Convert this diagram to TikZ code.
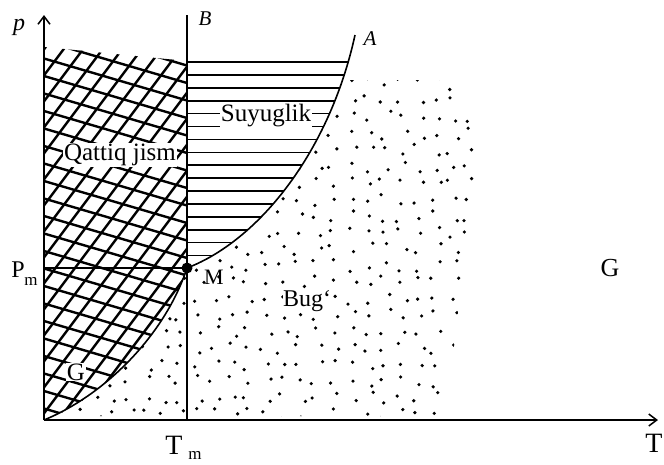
\documentclass[tikz,border=0pt]{standalone}
\usepackage{fontspec}
\setmainfont{Liberation Serif}
\usetikzlibrary{arrows.meta}
\begin{document}
\begin{tikzpicture}[x=1pt,y=-1pt,
  axis/.style={line width=1.5pt,-{Straight Barb[length=8pt,width=12pt,line width=1.5pt]}},
  bound/.style={line width=1.6pt},
  xhatch/.style={line width=2.4pt},
  hhatch/.style={line width=1.6pt},
  lab/.style={inner sep=1.5pt},
  wlab/.style={lab,fill=white},
  dotmark/.style={fill=black}]
\useasboundingbox (0,0) rectangle (664,464);
% key points
\coordinate (O) at (44,420);
\coordinate (Ptop) at (44,15);
\coordinate (Ttip) at (658,420);
\coordinate (Bbot) at (187,420);
\coordinate (Btop) at (187,15);
\coordinate (M) at (187,268);
\coordinate (Pm) at (44,268);
\coordinate (Aend) at (355,35);

% cross-hatched solid region
\begin{scope}
  \clip (O) .. controls (105,395) and (165,335) .. (M) -- (187,61) -- (44,47) -- cycle;
  \foreach \k in {-9,...,24} {
    \draw[xhatch] (44,{17.5*\k+6}) -- (187,{17.5*\k+6+42});
  }
  \foreach \k in {-14,...,10} {
    \draw[xhatch] ({19.5*\k},420) -- ({19.5*\k+300},20);
  }
\end{scope}

% horizontal hatching (liquid)
\begin{scope}
  \clip (M) .. controls (260,240) and (330,150) .. (Aend) -- (187,35) -- cycle;
  \foreach \k in {0,...,16} {
    \draw[hhatch] (187,{62+12.9*\k}) -- (360,{62+12.9*\k});
  }
\end{scope}

% dots (gas)
\pgfmathsetseed{4217}
\begin{scope}
  \clip (O) .. controls (105,395) and (165,335) .. (M) .. controls (260,240) and (330,150) .. (Aend) -- (520,35) -- (520,420) -- cycle;
  \clip (62,416) -- (442,416) -- (455,340) -- (466,250) -- (480,150) -- (462,80) -- (330,80) -- (62,80) -- cycle;
  \foreach \i in {0,...,25} {
    \foreach \j in {0,...,20} {
      \fill[dotmark] ({62+17*\i+12*rnd-6},{84+16.5*\j+12*rnd-6}) circle (1.8);
    }
  }
\end{scope}

% boundaries
\draw[bound] (O) .. controls (105,395) and (165,335) .. (M);
\draw[bound] (M) .. controls (260,240) and (330,150) .. (Aend);
\draw[bound] (Bbot) -- (Btop);
\draw[bound] (Pm) -- (M);
\draw[axis] (O) -- (Ptop);
\draw[axis] (O) -- (Ttip);
\fill (M) circle (5.5);

% labels
\node[lab,font=\fontsize{24}{28}\selectfont\itshape] (lp) at (19,27) {p};
\node[lab,font=\fontsize{21}{25}\selectfont\itshape] (lB) at (205,19) {B};
\node[lab,font=\fontsize{21}{25}\selectfont\itshape] (lA) at (370,39) {A};
\node[wlab,font=\fontsize{25}{28}\selectfont,inner sep=1pt] (lS) at (266,116) {Suyuglik};
\node[wlab,font=\fontsize{25}{28}\selectfont,inner sep=1pt] (lQ) at (120,155) {Qattiq jism};
\node[wlab,font=\fontsize{25}{28}\selectfont,inner sep=1pt] (lG1) at (76,372) {G};
\node[lab,font=\fontsize{22}{26}\selectfont] (lM) at (214,277) {M};
\node[wlab,font=\fontsize{24}{28}\selectfont,inner sep=0.5pt] (lBug) at (307,301) {Bug‘};
\node[lab,font=\fontsize{26}{30}\selectfont] (lG2) at (610,268) {G};
\node[lab,font=\fontsize{24}{28}\selectfont] (lPm) at (18,270) {P};
\node[lab,font=\fontsize{17}{19}\selectfont] (lPms) at (31,281) {m};
\node[lab,font=\fontsize{28}{32}\selectfont] (lT) at (654,443) {T};
\node[lab,font=\fontsize{28}{32}\selectfont] (lTm) at (174,445) {T};
\node[lab,font=\fontsize{17}{19}\selectfont] (lTms) at (195,455) {m};
\end{tikzpicture}
\end{document}
